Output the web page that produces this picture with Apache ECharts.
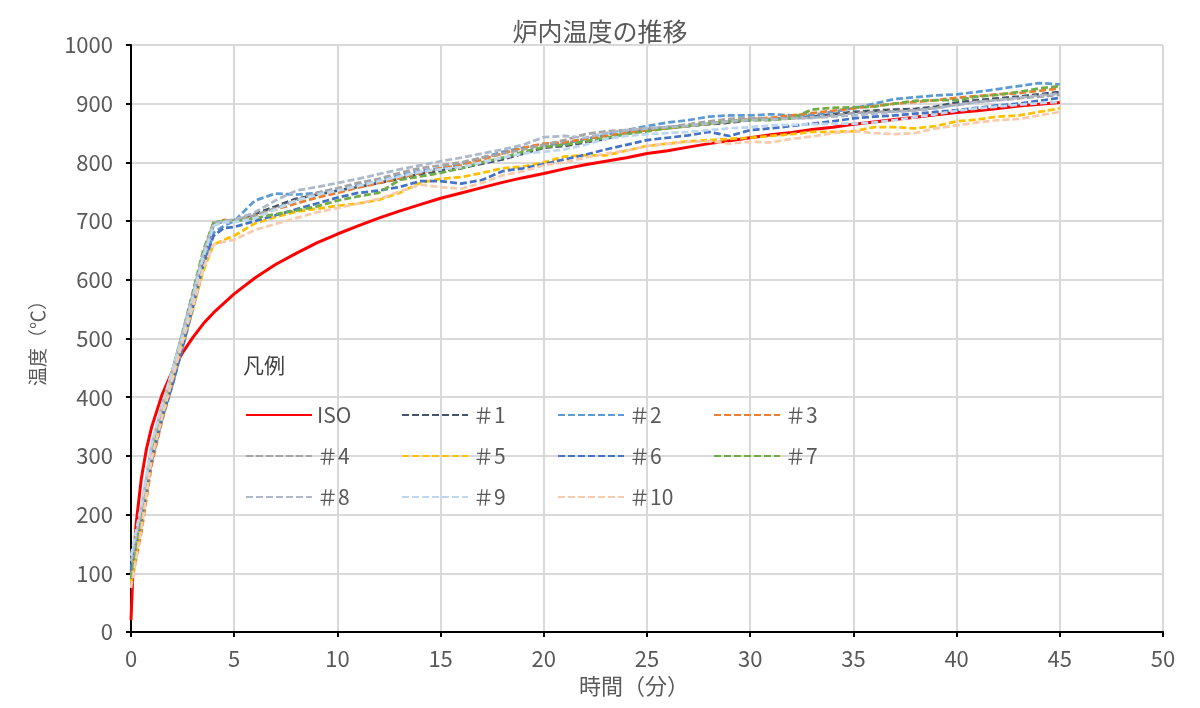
<!DOCTYPE html>
<html>
<head>
<meta charset="utf-8">
<script src="https://cdn.jsdelivr.net/npm/echarts@6/dist/echarts.min.js"></script>
<style>
html,body{margin:0;padding:0;background:#fff;}
#chart{width:1200px;height:708px;}
</style>
</head>
<body>
<div id="chart"></div>
<script>
// Time axis (minutes)
const tISO = [0,0.1,0.25,0.5,0.75,1,1.5,2,2.5,3,3.5,4,5,6,7,8,9,10,11,12,13,14,15,16,17,18,19,20,21,22,23,24,25,26,27,28,29,30,31,32,33,34,35,36,37,38,39,40,41,42,43,44,45];
const tFurnace = [0,0.5,1,1.5,2,2.5,3,3.5,4,4.5,5,6,7,8,9,10,11,12,13,14,15,16,17,18,19,20,21,22,23,24,25,26,27,28,29,30,31,32,33,34,35,36,37,38,39,40,41,42,43,44,45];

// Temperatures (°C)
const ISO = [20,108,185,261,312,349,404,444,476,502,525,544,576,603,626,645,663,678,692,705,717,728,739,748,757,766,774,781,789,796,802,808,815,820,826,832,837,842,847,851,856,860,865,869,873,877,881,885,888,892,896,899,902];
const s1 = [100,200,310,380,440,505,570,640,693,700, 702,712,725,738,745,752,758,765,772,780,786,790,798,805,815,825,828,834,840,850,856,860,862,865,868,872,874,876,878,882,886,888,890,891,895,902,906,909,912,916,920];
const s2 = [110,185,290,360,420,485,550,620,680,692, 700,735,747,745,748,755,762,770,778,785,790,797,808,818,825,830,832,840,847,855,862,868,872,878,880,880,882,880,881,886,892,900,908,911,914,916,920,925,930,935,933];
const s3 = [80,170,285,360,425,495,565,640,695,702, 700,708,720,730,740,748,757,765,773,782,790,795,805,815,825,832,834,840,845,850,855,858,862,866,870,874,876,880,884,888,892,896,900,903,906,910,913,916,918,922,926];
const s4 = [95,200,315,385,445,510,575,645,697,700, 702,710,722,735,748,756,765,772,782,790,795,800,808,815,822,830,838,848,853,855,858,860,865,870,874,876,874,875,876,880,884,886,887,889,893,898,903,906,909,912,915];
const s5 = [85,185,300,370,430,490,550,615,660,668, 675,696,707,716,721,726,730,736,748,765,772,775,782,790,793,800,810,812,812,820,828,832,836,838,840,842,845,848,852,852,853,860,860,858,862,870,873,878,880,886,892];
const s6 = [105,190,295,365,420,485,555,625,675,688, 690,700,710,720,730,740,748,752,758,768,768,764,770,785,790,797,805,813,822,830,838,842,846,852,845,855,858,862,866,870,875,878,880,883,886,889,893,897,900,905,910];
const s7 = [90,195,310,385,445,510,580,650,698,700, 700,705,712,718,725,735,742,748,770,776,782,790,800,808,818,826,830,836,842,848,853,858,862,866,870,872,872,875,890,893,894,895,900,905,906,906,912,915,920,926,930];
const s8 = [120,210,320,385,445,510,575,645,695,700, 702,715,735,752,758,765,772,780,788,795,802,808,815,822,830,843,845,842,850,855,858,860,862,866,870,872,873,875,876,878,880,883,886,888,892,898,903,906,910,914,917];
const s9 = [130,215,320,385,445,505,570,640,692,698, 698,705,720,735,745,752,760,768,776,784,788,792,800,808,815,818,822,830,840,845,848,850,852,855,858,860,863,864,865,866,866,868,872,877,882,888,892,895,898,901,903];
const s10 = [75,175,295,365,430,495,555,620,660,665, 668,685,695,705,715,722,730,738,750,762,758,755,765,778,785,795,800,808,815,820,828,832,835,836,832,835,834,840,844,850,853,850,848,850,858,863,868,872,874,880,886];

const seriesNames = ['ISO','＃1','＃2','＃3','＃4','＃5','＃6','＃7','＃8','＃9','＃10'];
const seriesColors = ['#FF0000','#44546A','#5B9BD5','#ED7D31','#A5A5A5','#FFC000','#4472C4','#70AD47','#ADB9CA','#BDD7EE','#F8CBAD'];
const furnaceValues = [s1,s2,s3,s4,s5,s6,s7,s8,s9,s10];

const xTicks = {min:0, max:50, interval:5};
const yTicks = {min:0, max:1000, interval:100};

const FONT = '"Noto Sans CJK JP", "Noto Sans", sans-serif';

const series = [];
series.push({
  name: seriesNames[0], type:'line', symbol:'none', smooth:false,
  data: tISO.map((t,i)=>[t, ISO[i]]),
  lineStyle:{color:seriesColors[0], width:3, type:'solid'},
  itemStyle:{color:seriesColors[0]}
});
furnaceValues.forEach((vals, k)=>{
  series.push({
    name: seriesNames[k+1], type:'line', symbol:'none', smooth:false,
    data: tFurnace.map((t,i)=>[t, vals[i]]),
    lineStyle:{color:seriesColors[k+1], width:2.75, type:[7,3]},
    itemStyle:{color:seriesColors[k+1]}
  });
});

function legendRow(names, top){
  return {
    data: names, left:245, top: top, orient:'horizontal', padding:0,
    itemWidth:66, itemHeight:14, itemGap:0, selectedMode:false,
    itemStyle:{opacity:0, borderWidth:0},
    textStyle:{fontFamily:FONT, fontSize:21, color:'#595959', width:84, lineHeight:22}
  };
}

const axisCommon = {
  axisLine:{show:true, lineStyle:{color:'#000', width:2}},
  axisTick:{show:true, length:5, lineStyle:{color:'#000', width:2}},
  splitLine:{show:true, lineStyle:{color:'#d9d9d9', width:2}}
};

const chart = echarts.init(document.getElementById('chart'), null, {renderer:'canvas'});
chart.setOption({
  animation:false,
  textStyle:{fontFamily:FONT},
  title:[
    {text:'炉内温度の推移', left:'center', top:19, padding:0,
     textStyle:{fontFamily:FONT, fontSize:25, fontWeight:'normal', color:'#595959'}},
    {text:'凡例', left:243, top:355, padding:0,
     textStyle:{fontFamily:FONT, fontSize:21, fontWeight:'normal', color:'#404040'}}
  ],
  legend:[
    legendRow(seriesNames.slice(0,4), 404),
    legendRow(seriesNames.slice(4,8), 445),
    legendRow(seriesNames.slice(8,11), 486)
  ],
  grid:{left:131, right:37, top:45, bottom:76, containLabel:false},
  xAxis:Object.assign({}, axisCommon, {
    type:'value', min:xTicks.min, max:xTicks.max, interval:xTicks.interval,
    name:'時間（分）', nameLocation:'middle', nameGap:42,
    nameTextStyle:{fontFamily:FONT, fontSize:22, color:'#595959', padding:[0,26,0,0]},
    axisLabel:{fontFamily:FONT, fontSize:22, color:'#595959', margin:16, formatter:(v)=>String(v)}
  }),
  yAxis:Object.assign({}, axisCommon, {
    type:'value', min:yTicks.min, max:yTicks.max, interval:yTicks.interval,
    name:'温度（℃）', nameLocation:'middle', nameGap:84,
    nameTextStyle:{fontFamily:FONT, fontSize:19, color:'#595959'},
    axisLabel:{fontFamily:FONT, fontSize:22, color:'#595959', margin:18, formatter:(v)=>String(v)}
  }),
  series: series
});
</script>
</body>
</html>
